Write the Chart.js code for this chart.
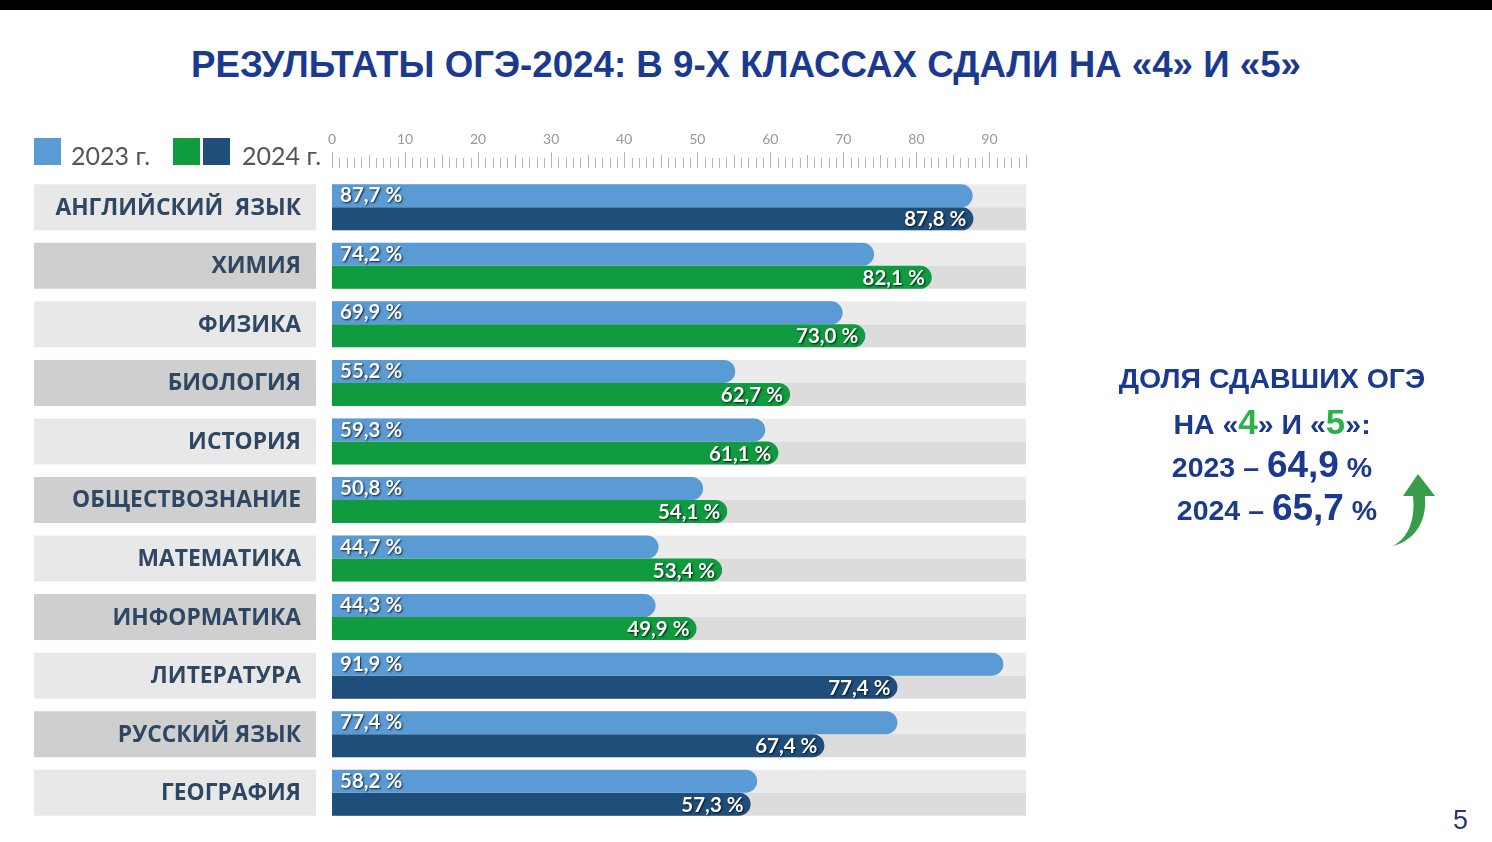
<!DOCTYPE html>
<html lang="ru">
<head>
<meta charset="UTF-8">
<title>Результаты ОГЭ-2024</title>
<script src="https://cdn.jsdelivr.net/npm/chart.js"></script>
<style>
  body { margin: 0; width: 1492px; height: 842px; background: #fff; overflow: hidden; position: relative; font-family: "Liberation Sans", Arial, sans-serif; }
  .topbar { position: absolute; left: 0; top: 0; width: 1492px; height: 10px; background: #000; }
  h1 { position: absolute; left: 0; top: 44px; width: 1492px; margin: 0; text-align: center; font-size: 36.7px; font-weight: bold; color: #1b3a8f; }
  #chart { position: absolute; left: 0; top: 0; }
  .legend { position: absolute; top: 140px; font-family: Lato, sans-serif; font-size: 25px; color: #555; }
  .sq { position: absolute; width: 27px; height: 27px; }
  .side { position: absolute; left: 1072px; top: 357px; width: 400px; text-align: center; color: #1b3a8f; font-weight: bold; font-size: 28.5px; }
  .side div { height: 43px; line-height: 43px; }
  .g { color: #2bb34a; font-size: 35px; }
  .big { font-size: 37px; }
  .pnum { position: absolute; left: 1453px; top: 805px; font-size: 27px; color: #233a6b; }
</style>
</head>
<body>
<div class="topbar"></div>
<h1>РЕЗУЛЬТАТЫ ОГЭ-2024: В 9-Х КЛАССАХ СДАЛИ НА «4» И «5»</h1>
<canvas id="chart" width="1492" height="842"></canvas>

<div class="sq" style="left:34px;top:138px;background:#5b9bd5"></div>
<div class="legend" style="left:71px">2023 г.</div>
<div class="sq" style="left:173px;top:138px;background:#0f9b3e"></div>
<div class="sq" style="left:203px;top:138px;background:#1f4e7a"></div>
<div class="legend" style="left:242px">2024 г.</div>

<div class="side">
  <div>ДОЛЯ СДАВШИХ ОГЭ</div>
  <div>НА «<span class="g">4</span>» И «<span class="g">5</span>»:</div>
  <div>2023 – <span class="big">64,9</span> %</div>
  <div style="margin-left:10px">2024 – <span class="big">65,7</span> %</div>
</div>
<svg style="position:absolute;left:1385px;top:470px" width="56" height="80">
  <path d="M8 76 C26 66 30 46 28 26 L18 26 L33 4 L50 26 L40 26 C42 52 30 70 8 76 Z" fill="#3a9c4a"/>
</svg>
<div class="pnum">5</div>

<script>
const subjects = ['АНГЛИЙСКИЙ  ЯЗЫК', 'ХИМИЯ', 'ФИЗИКА', 'БИОЛОГИЯ', 'ИСТОРИЯ', 'ОБЩЕСТВОЗНАНИЕ',
                  'МАТЕМАТИКА', 'ИНФОРМАТИКА', 'ЛИТЕРАТУРА', 'РУССКИЙ ЯЗЫК', 'ГЕОГРАФИЯ'];
const values2023 = [87.7, 74.2, 69.9, 55.2, 59.3, 50.8, 44.7, 44.3, 91.9, 77.4, 58.2];
const values2024 = [87.8, 82.1, 73.0, 62.7, 61.1, 54.1, 53.4, 49.9, 77.4, 67.4, 57.3];
const colors2024 = ['#1f4e7a', '#0f9b3e', '#0f9b3e', '#0f9b3e', '#0f9b3e', '#0f9b3e',
                    '#0f9b3e', '#0f9b3e', '#1f4e7a', '#1f4e7a', '#1f4e7a'];
const axisTicks = [0, 10, 20, 30, 40, 50, 60, 70, 80, 90];
const axisMax = 95;

const fmt = v => v.toFixed(1).replace('.', ',') + ' %';

const decor = {
  id: 'decor',
  beforeDatasetsDraw(chart) {
    const ctx = chart.ctx, x = chart.scales.x;
    const m0 = chart.getDatasetMeta(0), m1 = chart.getDatasetMeta(1);
    ctx.save();
    subjects.forEach((name, i) => {
      const b0 = m0.data[i], b1 = m1.data[i];
      const top = b0.y - b0.height / 2, mid = b1.y - b1.height / 2, bot = b1.y + b1.height / 2;
      // tracks
      ctx.fillStyle = '#ebebeb';
      ctx.fillRect(x.getPixelForValue(0), top, x.getPixelForValue(axisMax) - x.getPixelForValue(0), mid - top);
      ctx.fillStyle = '#dcdcdc';
      ctx.fillRect(x.getPixelForValue(0), mid, x.getPixelForValue(axisMax) - x.getPixelForValue(0), bot - mid);
      // label boxes
      ctx.fillStyle = i % 2 ? '#cfcfcf' : '#e8e8e8';
      ctx.fillRect(34, top, 282, bot - top);
      ctx.fillStyle = '#2e4763';
      ctx.font = 'bold 22.8px "Open Sans", sans-serif';
      ctx.textAlign = 'right';
      ctx.textBaseline = 'middle';
      ctx.fillText(name, 301, (top + bot) / 2 + 1);
    });
    // ruler
    ctx.strokeStyle = '#b5b5b5';
    ctx.lineWidth = 1;
    for (let v = 0; v <= axisMax; v++) {
      const px = Math.round(x.getPixelForValue(v)) + 0.5;
      const len = v % 10 === 0 ? 16 : (v % 5 === 0 ? 13 : 10);
      ctx.beginPath();
      ctx.moveTo(px, 168 - len);
      ctx.lineTo(px, 168);
      ctx.stroke();
    }
    ctx.fillStyle = '#9a9a9a';
    ctx.font = '14px Lato, sans-serif';
    ctx.textAlign = 'center';
    ctx.textBaseline = 'middle';
    axisTicks.forEach(t => ctx.fillText(String(t), x.getPixelForValue(t), 139));
    ctx.restore();
  },
  afterDatasetsDraw(chart) {
    const ctx = chart.ctx;
    const m0 = chart.getDatasetMeta(0), m1 = chart.getDatasetMeta(1);
    ctx.save();
    ctx.font = 'bold 20.5px Lato, sans-serif';
    ctx.textBaseline = 'middle';
    ctx.fillStyle = '#fff';
    ctx.shadowColor = 'rgba(0,0,0,0.8)';
    ctx.shadowOffsetX = 1;
    ctx.shadowOffsetY = 1;
    ctx.shadowBlur = 2;
    m0.data.forEach((b, i) => {
      ctx.textAlign = 'left';
      ctx.fillText(fmt(values2023[i]), b.base + 8, b.y);
    });
    m1.data.forEach((b, i) => {
      ctx.textAlign = 'right';
      ctx.fillText(fmt(values2024[i]), b.x - 7, b.y + 1);
    });
    ctx.restore();
  }
};

new Chart(document.getElementById('chart'), {
  type: 'bar',
  data: {
    labels: subjects,
    datasets: [
      { label: '2023 г.', data: values2023, backgroundColor: '#5b9bd5',
        borderRadius: { topRight: 12, bottomRight: 12 }, borderSkipped: 'start' },
      { label: '2024 г.', data: values2024, backgroundColor: colors2024,
        borderRadius: { topRight: 12, bottomRight: 12 }, borderSkipped: 'start' }
    ]
  },
  options: {
    indexAxis: 'y',
    responsive: false,
    animation: false,
    layout: { padding: { left: 332, right: 466, top: 178, bottom: 20 } },
    categoryPercentage: 0.786,
    barPercentage: 1,
    scales: {
      x: { display: false, min: 0, max: axisMax },
      y: { display: false }
    },
    plugins: { legend: { display: false }, tooltip: { enabled: false } }
  },
  plugins: [decor]
});
</script>
</body>
</html>
